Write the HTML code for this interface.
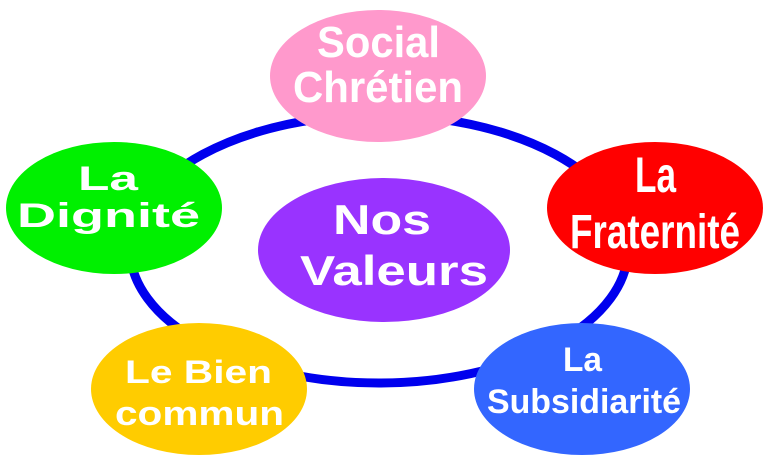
<!DOCTYPE html>
<html><head><meta charset="utf-8"><style>html,body{margin:0;padding:0;background:#fff;}svg{display:block}</style></head>
<body>
<svg width="768" height="463" viewBox="0 0 768 463" xmlns="http://www.w3.org/2000/svg" font-family="Liberation Sans, Arial, sans-serif" font-weight="bold" fill="#fff">
<rect width="768" height="463" fill="#fff"/>
<ellipse cx="379" cy="249" rx="249" ry="134" fill="none" stroke="#0000ee" stroke-width="9"/>
<ellipse cx="378" cy="76" rx="108" ry="66" fill="#ff99cc"/>
<ellipse cx="384" cy="250" rx="126" ry="72" fill="#9933ff"/>
<ellipse cx="114" cy="208" rx="108" ry="66" fill="#00f000"/>
<ellipse cx="655" cy="208" rx="108" ry="66" fill="#ff0000"/>
<ellipse cx="199" cy="389" rx="108" ry="66" fill="#ffcc00"/>
<ellipse cx="582" cy="389" rx="108" ry="66" fill="#3366ff"/>
<g fill="#fff">
<text x="317" y="57" font-size="44" textLength="123" lengthAdjust="spacingAndGlyphs">Social</text>
<text x="293" y="102" font-size="44" textLength="170" lengthAdjust="spacingAndGlyphs">Chrétien</text>
<text x="333" y="234" font-size="42" textLength="98" lengthAdjust="spacingAndGlyphs">Nos</text>
<text x="300" y="285" font-size="42" textLength="188" lengthAdjust="spacingAndGlyphs">Valeurs</text>
<text x="78" y="190" font-size="34" textLength="60" lengthAdjust="spacingAndGlyphs">La</text>
<text x="17" y="227" font-size="34" textLength="183" lengthAdjust="spacingAndGlyphs">Dignité</text>
<text x="635" y="192" font-size="50" textLength="41" lengthAdjust="spacingAndGlyphs">La</text>
<text x="570" y="248" font-size="48" textLength="170" lengthAdjust="spacingAndGlyphs">Fraternité</text>
<text x="125" y="383" font-size="32" textLength="147" lengthAdjust="spacingAndGlyphs">Le Bien</text>
<text x="115" y="425" font-size="34" textLength="169" lengthAdjust="spacingAndGlyphs">commun</text>
<text x="563" y="371" font-size="34" textLength="39" lengthAdjust="spacingAndGlyphs">La</text>
<text x="487" y="413" font-size="34" textLength="194" lengthAdjust="spacingAndGlyphs">Subsidiarité</text>
</g>
</svg>
</body></html>
